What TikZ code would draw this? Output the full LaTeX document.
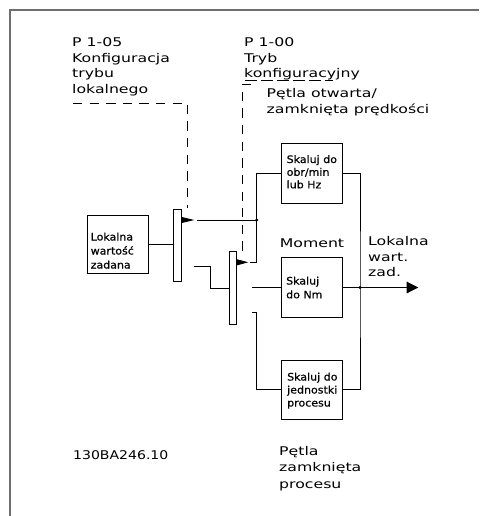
\documentclass[tikz,border=0pt]{standalone}
\usepackage{fontspec}
\newfontfamily\lblfont[FakeStretch=1.31]{DejaVu Sans}
\newfontfamily\codefont[FakeStretch=1.17]{DejaVu Sans}
\newfontfamily\boxfont[FakeStretch=1.07,FakeBold=0.6]{DejaVu Sans}
\usetikzlibrary{arrows.meta}
\definecolor{framecol}{RGB}{110,110,110}
\begin{document}
\begin{tikzpicture}[x=1pt,y=-1pt,
 lbl/.style={anchor=base west,inner sep=0pt,font=\lblfont\fontsize{12}{14}\selectfont},
 btxt/.style={anchor=base west,inner sep=0pt,font=\boxfont\fontsize{10.3}{12}\selectfont},
 wire/.style={line width=0.9pt},
 ctrl/.style={line width=0.9pt,dash pattern=on 9.3pt off 7.3pt},
 blk/.style={draw,line width=0.9pt,inner sep=0pt},
 swbar/.style={draw,line width=0.9pt,inner sep=0pt},
 dot/.style={circle,fill,inner sep=0pt,minimum size=3.4pt},
]
\useasboundingbox (0,0) rectangle (479,516);
\draw[framecol,line width=1.5pt] (10,516) -- (10,10) -- (479,10);

% blocks
\node[blk,minimum width=61pt,minimum height=58pt] (lok) at (117.5,244) {};
\node[blk,minimum width=61pt,minimum height=60pt] (b1) at (311.5,173.4) {};
\node[blk,minimum width=61pt,minimum height=60pt] (b2) at (311.5,287.5) {};
\node[blk,minimum width=61pt,minimum height=59pt] (b3) at (311.5,389.5) {};
\node[swbar,minimum width=7.7pt,minimum height=72.4pt] (sw1) at (177.2,245.5) {};
\node[swbar,minimum width=7.4pt,minimum height=72.3pt] (sw2) at (233,287.9) {};

% block texts
\node[btxt] (l1) at (90.5,240.5) {Lokalna};
\node[btxt] (l2) at (90.5,254.5) {wartość};
\node[btxt] (l3) at (90.5,268.5) {zadana};
\node[btxt] (s11) at (286.5,163) {Skaluj do};
\node[btxt] (s12) at (286.5,175.8) {obr/min};
\node[btxt] (s13) at (286.5,188.3) {lub Hz};
\node[btxt] (s21) at (286,284.5) {Skaluj};
\node[btxt] (s22) at (286,298.3) {do Nm};
\node[btxt] (s31) at (287,380.5) {Skaluj do};
\node[btxt] (s32) at (287,393.5) {jednostki};
\node[btxt] (s33) at (287,406.5) {procesu};

% labels
\node[lbl] (p1) at (72,46.7) {P 1-05};
\node[lbl] (p2) at (72,62.3) {Konfiguracja};
\node[lbl] (p3) at (72,78) {trybu};
\node[lbl] (p4) at (72,93.7) {lokalnego};
\node[lbl] (q1) at (244,46.7) {P 1-00};
\node[lbl] (q2) at (244,62.3) {Tryb};
\node[lbl] (q3) at (244,78) {konfiguracyjny};
\node[lbl] (r1) at (266.5,98) {Pętla otwarta/};
\node[lbl] (r2) at (266.5,113.5) {zamknięta prędkości};
\node[lbl,anchor=base] (mom) at (312,247) {Moment};
\node[lbl] (w1) at (368,245.5) {Lokalna};
\node[lbl] (w2) at (368,261) {wart.};
\node[lbl] (w3) at (368,276.5) {zad.};
\node[lbl,font=\codefont\fontsize{12}{14}\selectfont] (code) at (73,459) {130BA246.10};
\node[lbl] (z1) at (279,455) {Pętla};
\node[lbl] (z2) at (279,471.5) {zamknięta};
\node[lbl] (z3) at (279,488) {procesu};

% coordinates
\coordinate (c1a) at (73,103);
\coordinate (c1b) at (187.3,208);
\coordinate (c2a) at (251,84);
\coordinate (c2b) at (242.3,251.7);
\coordinate (u1) at (245,80);
\coordinate (u2) at (333,80);
\coordinate (t1) at (194.3,220);
\coordinate (t2) at (248.3,262.3);
\coordinate (e2) at (250,262.3);
\coordinate (o1) at (197.3,220);
\coordinate (o1b) at (194.3,266.7);
\coordinate (k1) at (210.7,288.3);
\coordinate (o2m) at (252.3,287.5);
\coordinate (o2b) at (251.7,312.7);
\coordinate (out) at (418.3,287.5);
\node[dot] (j1) at (256.7,220) {};
\node[dot] (j2) at (360,287.5) {};

% control (dashed)
\draw[ctrl] (c1a) -| (c1b);
\draw[ctrl] (c2a) -| (c2b);
\draw[line width=0.9pt,dash pattern=on 12pt off 4pt] (u1) -- (u2);

% switch contacts
\draw[wire,-{Triangle[length=13pt,width=6pt]}] (sw1.east |- t1) -- (t1);
\draw[wire,-{Triangle[length=11.6pt,width=6pt]}] (sw2.east |- t2) -- (t2);

% wires
\draw[wire] (lok.east) -- (lok.east -| sw1.west);
\draw[wire] (o1) -- (j1.center);
\draw[wire] (b1.west) -| (e2 -| j1) -- (e2);
\draw[wire] (o1b) -| (k1) -- (k1 -| sw2.west);
\draw[wire] (o2m) -- (o2m -| b2.west);
\draw[wire] (o2b) -- (o2b -| j1) |- (b3.west);
\draw[wire] (b1.east) -| (j2.center) |- (b3.east);
\draw[wire] (b2.east) -- (j2.center);
\draw[wire,-{Triangle[length=11.6pt,width=11.6pt]}] (j2.center) -- (out);
\end{tikzpicture}
\end{document}
